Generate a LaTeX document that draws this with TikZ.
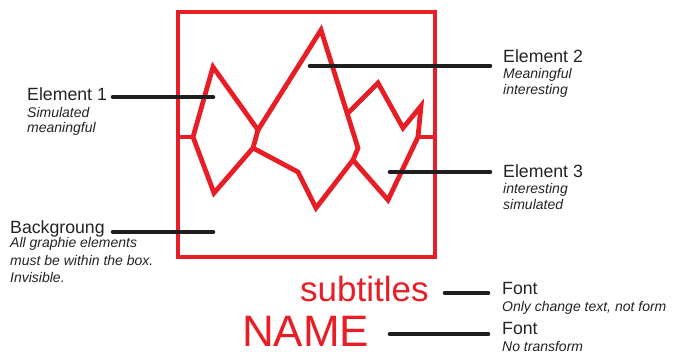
\documentclass[tikz,border=0pt]{standalone}
\usepackage{fontspec}
\setmainfont{Liberation Sans}
\definecolor{lred}{RGB}{232,30,38}
\definecolor{lblack}{RGB}{30,30,30}
\definecolor{ltext}{RGB}{35,35,35}
\begin{document}
\begin{tikzpicture}[x=1pt,y=-1pt,
  redline/.style={draw=lred,line width=4.8pt},
  leader/.style={draw=lblack,line width=4.6pt,line cap=round},
  title/.style={anchor=base west,inner sep=0pt,text=ltext,font=\fontsize{17.7}{17.7}\selectfont},
  sub/.style={anchor=base west,inner sep=0pt,text=ltext,font=\fontsize{14}{14}\selectfont\itshape}]
\useasboundingbox (0,0) rectangle (673,358);
% box
\draw[redline] (178,12) rectangle (435,257);
% shape coordinates
\coordinate (ls) at (178,137);
\coordinate (a1) at (193,137);
\coordinate (a2) at (213,67);
\coordinate (j1) at (258,130);
\coordinate (j2) at (253,148);
\coordinate (a3) at (214,193);
\coordinate (p) at (321,30);
\coordinate (b1) at (358,148);
\coordinate (b2) at (353,160);
\coordinate (b3) at (316,208);
\coordinate (b4) at (298,172);
\coordinate (c0) at (348,113);
\coordinate (c1) at (378,83);
\coordinate (c2) at (403,128);
\coordinate (c3) at (421,106);
\coordinate (c4) at (418,137);
\coordinate (c5) at (388,200);
\coordinate (rs) at (435,137);
% red shapes
\draw[redline] (ls) -- (a1);
\draw[redline] (a1) -- (a2) -- (j1) -- (j2) -- (a3) -- cycle;
\draw[redline] (j1) -- (p) -- (b1) -- (b2) -- (b3) -- (b4) -- (j2);
\draw[redline] (c0) -- (c1) -- (c2) -- (c3) -- (c4) -- (c5) -- (b2);
\draw[redline] (c4) -- (rs);
% leader endpoints
\coordinate (l1a) at (113,97);  \coordinate (l1b) at (213,97);
\coordinate (lba) at (113,232); \coordinate (lbb) at (213,232);
\coordinate (l2a) at (310,66);  \coordinate (l2b) at (490,66);
\coordinate (l3a) at (390,172); \coordinate (l3b) at (490,172);
\coordinate (lsa) at (445,293); \coordinate (lsb) at (488,293);
\coordinate (lna) at (390,334); \coordinate (lnb) at (488,334);
\draw[leader] (l1a) -- (l1b);
\draw[leader] (lba) -- (lbb);
\draw[leader] (l2a) -- (l2b);
\draw[leader] (l3a) -- (l3b);
\draw[leader] (lsa) -- (lsb);
\draw[leader] (lna) -- (lnb);
% labels
\node[title] (t1) at (27,101) {Element 1};
\node[sub] (s1a) at (27,118) {Simulated};
\node[sub] (s1b) at (27,133) {meaningful};
\node[title] (tb) at (10,234) {Backgroung};
\node[sub] (sba) at (10,248) {All graphie elements};
\node[sub] (sbb) at (10,266) {must be within the box.};
\node[sub] (sbc) at (10,283) {Invisible.};
\node[title] (t2) at (503,63) {Element 2};
\node[sub] (s2a) at (503,79) {Meaningful};
\node[sub] (s2b) at (503,95) {interesting};
\node[title] (t3) at (503,178) {Element 3};
\node[sub] (s3a) at (503,194) {interesting};
\node[sub] (s3b) at (503,210) {simulated};
\node[title] (tf1) at (502,295) {Font};
\node[sub] (sf1) at (502,312) {Only change text, not form};
\node[title] (tf2) at (502,335) {Font};
\node[sub] (sf2) at (502,352) {No transform};
% red texts
\node[anchor=base west,inner sep=0pt,text=lred,font=\fontsize{35}{35}\selectfont] (subt) at (300,302) {subtitles};
\node[anchor=base west,inner sep=0pt,text=lred,font=\fontsize{44}{44}\selectfont] (name) at (242,347) {NAME};
\end{tikzpicture}
\end{document}
